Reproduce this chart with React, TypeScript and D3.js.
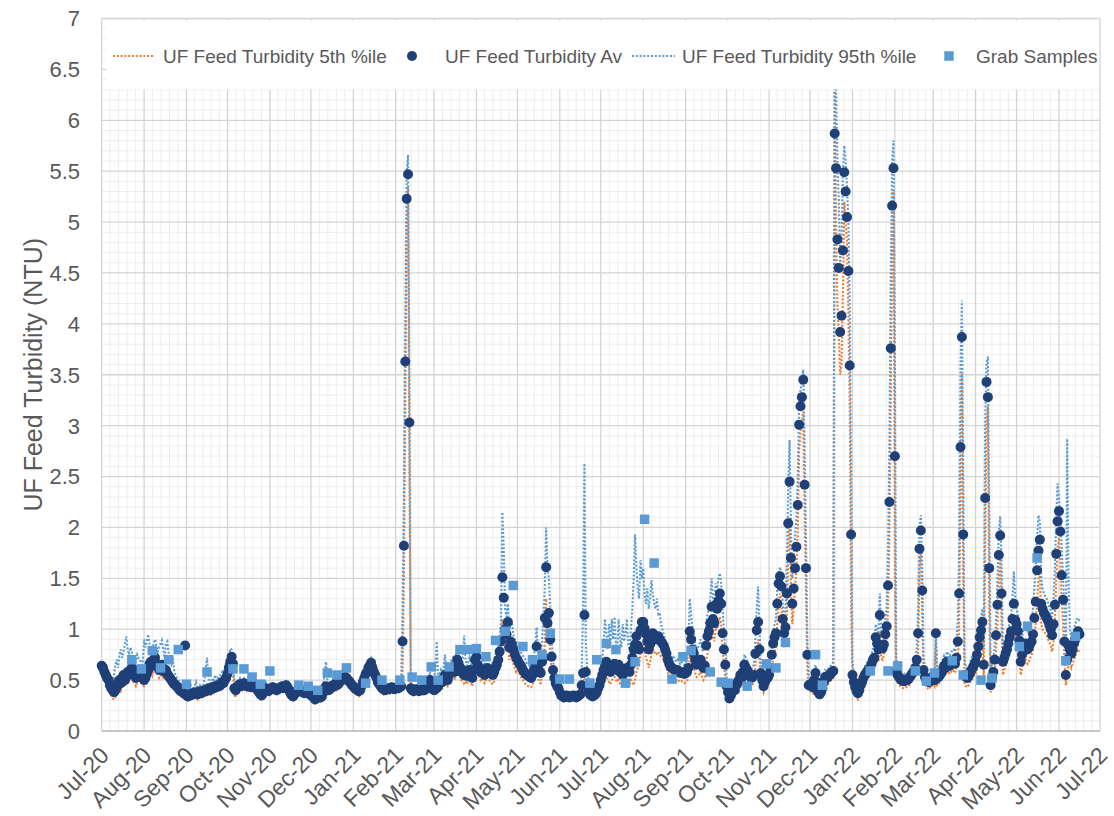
import React, { useEffect, useRef } from 'react';
import * as d3 from 'd3';

// daily values, first value is 1 Jul 2020, one value per day (null = no reading)
const firstDay = Date.UTC(2020, 6, 1);
const axisEnd = Date.UTC(2022, 6, 1);

const avgTurbidity: (number | null)[] = [
  // Jul-20
  0.64, 0.62, 0.58, 0.55, 0.52, 0.50, 0.45, 0.42, 0.40, 0.38, 0.40, 0.43, 0.48, 0.50, 0.47, 0.52, 0.55, 0.50, 0.53, 0.58, 0.56, 0.60, 0.62, 0.58, 0.55, 0.52, 0.56, 0.60, 0.58, 0.55, 0.52,
  // Aug-20
  0.50, 0.52, 0.56, 0.60, 0.66, 0.68, 0.64, 0.70, 0.72, 0.66, 0.63, 0.60, 0.62, 0.65, 0.60, 0.58, 0.60, 0.56, 0.54, 0.52, 0.50, 0.48, 0.46, 0.45, 0.44, 0.42, 0.40, 0.39, 0.38, 0.37, 0.84,
  // Sep-20
  0.35, 0.34, 0.36, 0.35, 0.37, 0.36, 0.38, 0.37, 0.36, 0.38, 0.39, 0.37, 0.38, 0.40, 0.39, 0.40, 0.42, 0.40, 0.41, 0.43, 0.42, 0.44, 0.43, 0.45, 0.44, 0.46, 0.48, 0.47, 0.50, 0.52,
  // Oct-20
  0.56, 0.62, 0.68, 0.73, 0.66, 0.42, 0.40, 0.43, 0.45, 0.46, 0.44, 0.45, 0.47, 0.45, 0.44, 0.46, 0.45, 0.43, 0.44, 0.46, 0.45, 0.42, 0.40, 0.38, 0.36, 0.35, 0.37, 0.40, 0.42, 0.40, 0.39,
  // Nov-20
  0.41, 0.42, 0.43, 0.41, 0.42, 0.40, 0.41, 0.42, 0.43, 0.44, 0.42, 0.44, 0.45, 0.43, 0.40, 0.37, 0.35, 0.34, 0.36, 0.38, 0.40, 0.41, 0.39, 0.40, 0.38, 0.37, 0.39, 0.38, 0.37, 0.36,
  // Dec-20
  0.36, 0.34, 0.33, 0.31, 0.32, 0.34, 0.35, 0.33, 0.34, 0.38, 0.42, 0.44, 0.41, 0.40, 0.42, 0.44, 0.43, 0.45, 0.47, 0.45, 0.46, 0.48, 0.50, 0.52, 0.51, 0.53, 0.52, 0.50, 0.49, 0.47, 0.45,
  // Jan-21
  0.44, 0.42, 0.41, 0.40, 0.39, 0.40, 0.44, 0.48, 0.52, 0.56, 0.58, 0.62, 0.64, 0.67, 0.62, 0.58, 0.55, 0.52, 0.48, 0.46, 0.44, 0.42, 0.41, 0.40, 0.41, 0.42, 0.41, 0.42, 0.43, 0.42, 0.41,
  // Feb-21
  0.42, 0.43, 0.42, 0.43, 0.44, 0.88, 1.82, 3.63, 5.23, 5.47, 3.03, 0.42, 0.40, 0.39, 0.40, 0.41, 0.40, 0.39, 0.40, 0.41, 0.40, 0.40, 0.41, 0.42, 0.44, 0.50, 0.46, 0.42,
  // Mar-21
  0.40, 0.41, 0.42, 0.44, 0.47, 0.50, 0.48, 0.52, 0.55, 0.53, 0.50, 0.55, 0.58, 0.60, 0.62, 0.58, 0.65, 0.70, 0.66, 0.62, 0.58, 0.60, 0.55, 0.57, 0.54, 0.57, 0.60, 0.55, 0.52, 0.60, 0.70,
  // Apr-21
  0.73, 0.65, 0.62, 0.58, 0.60, 0.57, 0.55, 0.58, 0.62, 0.60, 0.58, 0.56, 0.55, 0.58, 0.62, 0.65, 0.70, 0.78, 0.88, 1.51, 1.31, 1.00, 0.95, 1.07, 0.82, 0.88, 0.85, 0.80, 0.76, 0.72,
  // May-21
  0.70, 0.67, 0.65, 0.63, 0.60, 0.58, 0.56, 0.55, 0.54, 0.53, 0.52, 0.55, 0.60, 0.65, 0.83, 0.62, 0.58, 0.57, 0.68, 0.72, 1.11, 1.61, 1.06, 1.16, 0.90, 0.73, 0.60, 0.52, 0.47, 0.44, 0.42,
  // Jun-21
  0.38, 0.35, 0.34, 0.33, 0.34, 0.35, 0.34, 0.33, 0.34, 0.34, 0.35, 0.34, 0.33, 0.34, 0.35, 0.36, 0.45, 0.57, 1.14, 0.58, 0.44, 0.40, 0.36, 0.35, 0.34, 0.35, 0.36, 0.38, 0.42, 0.45,
  // Jul-21
  0.50, 0.55, 0.60, 0.65, 0.68, 0.62, 0.60, 0.58, 0.62, 0.64, 0.66, 0.62, 0.60, 0.65, 0.58, 0.57, 0.55, 0.58, 0.60, 0.62, 0.60, 0.58, 0.65, 0.72, 0.80, 0.85, 0.93, 0.84, 0.80, 0.99, 1.07,
  // Aug-21
  1.07, 1.01, 0.95, 0.88, 0.80, 0.85, 0.92, 0.96, 0.94, 0.90, 0.91, 0.93, 0.90, 0.88, 0.86, 0.84, 0.80, 0.76, 0.70, 0.66, 0.63, 0.62, 0.61, 0.60, 0.59, 0.60, 0.58, 0.57, 0.58, 0.57, 0.56,
  // Sep-21
  0.57, 0.58, 0.62, 0.98, 0.90, 0.80, 0.76, 0.70, 0.65, 0.66, 0.68, 0.70, 0.65, 0.62, 0.64, 0.84, 0.93, 0.98, 1.06, 1.22, 1.10, 1.06, 1.24, 1.20, 1.28, 1.35, 1.25, 0.96, 0.80, 0.65,
  // Oct-21
  0.44, 0.38, 0.32, 0.35, 0.38, 0.42, 0.40, 0.45, 0.48, 0.50, 0.55, 0.52, 0.58, 0.65, 0.62, 0.60, 0.56, 0.54, 0.52, 0.53, 0.55, 0.76, 0.99, 1.07, 0.80, 0.57, 0.50, 0.44, 0.48, 0.53, 0.52,
  // Nov-21
  0.55, 0.62, 0.75, 0.86, 0.92, 0.96, 1.25, 1.45, 1.52, 1.42, 1.10, 0.96, 1.02, 1.35, 2.04, 2.45, 1.70, 1.25, 1.40, 1.60, 1.81, 2.22, 3.01, 3.19, 3.28, 3.45, 2.42, 1.60, 0.75, 0.45,
  // Dec-21
  0.46, 0.44, 0.43, 0.50, 0.57, 0.48, 0.38, 0.36, 0.38, 0.42, 0.48, 0.53, 0.52, 0.53, 0.55, 0.56, 0.58, 0.59, 5.87, 5.53, 4.83, 4.55, 3.92, 4.08, 4.72, 5.49, 5.30, 5.05, 4.52, 3.59, 1.93,
  // Jan-22
  0.55, 0.48, 0.43, 0.39, 0.37, 0.40, 0.45, 0.48, 0.52, 0.55, 0.57, 0.59, 0.61, 0.62, 0.66, 0.70, 0.72, 0.92, 0.86, 0.80, 1.14, 0.83, 0.81, 0.85, 0.95, 1.03, 1.43, 2.25, 3.76, 5.16, 5.53,
  // Feb-22
  2.70, 0.59, 0.55, 0.53, 0.51, 0.50, 0.49, 0.49, 0.50, 0.50, 0.51, 0.53, 0.55, 0.57, 0.59, 0.62, 0.70, 0.96, 1.79, 1.97, 1.38, 0.60, 0.53, 0.50, 0.49, 0.48, 0.50, 0.52,
  // Mar-22
  0.52, 0.50, 0.96, 0.52, 0.53, 0.55, 0.57, 0.60, 0.64, 0.62, 0.68, 0.66, 0.64, 0.66, 0.69, 0.68, 0.66, 0.72, 0.88, 1.35, 2.79, 3.87, 1.93, 0.55, 0.53, 0.52, 0.54, 0.57, 0.60, 0.62, 0.65,
  // Apr-22
  0.68, 0.75, 0.83, 0.92, 0.99, 1.07, 0.65, 2.29, 3.43, 3.28, 1.60, 0.45, 0.52, 0.58, 0.70, 0.94, 1.24, 1.73, 1.92, 1.35, 0.68, 0.72, 0.76, 0.80, 0.86, 0.92, 0.98, 1.10, 1.25, 1.09,
  // May-22
  1.05, 0.98, 0.89, 0.68, 0.75, 0.82, 0.86, 0.84, 0.80, 0.82, 0.86, 0.88, 0.95, 1.11, 1.27, 1.58, 1.77, 1.88, 1.25, 1.20, 1.16, 1.14, 1.11, 1.08, 1.04, 1.00, 0.94, 1.05, 1.24, 1.74, 2.06,
  // Jun-22
  2.16, 1.96, 1.53, 1.29, 0.88, 0.55, 0.70, 0.84, 0.80, 0.76, 0.80, 0.86, 0.90, 0.94, 0.98, 0.95,
];

const p95Turbidity: (number | null)[] = [
  // Jul-20
  0.68, 0.66, 0.62, 0.60, 0.58, 0.56, 0.52, 0.50, 0.48, 0.55, 0.65, 0.70, 0.62, 0.75, 0.80, 0.72, 0.78, 0.85, 0.93, 0.80, 0.75, 0.82, 0.78, 0.70, 0.65, 0.68, 0.75, 0.72, 0.70, 0.65, 0.68,
  // Aug-20
  0.90, 0.82, 0.88, 0.95, 0.85, 0.80, 0.78, 0.86, 0.90, 0.84, 0.78, 0.82, 0.86, 0.89, 0.80, 0.72, 0.86, 0.88, 0.75, 0.70, 0.66, 0.72, 0.60, 0.55, 0.52, 0.50, 0.48, 0.46, 0.44, 0.43, null,
  // Sep-20
  0.40, 0.39, 0.41, 0.45, 0.42, 0.40, 0.44, 0.48, 0.42, 0.41, 0.45, 0.44, 0.42, 0.50, 0.60, 0.72, 0.55, 0.48, 0.47, 0.52, 0.50, 0.55, 0.49, 0.52, 0.50, 0.56, 0.58, 0.55, 0.62, 0.68,
  // Oct-20
  0.65, 0.72, 0.81, 0.80, 0.75, 0.48, 0.45, 0.48, 0.50, 0.52, 0.49, 0.50, 0.52, 0.50, 0.49, 0.53, 0.51, 0.48, 0.49, 0.52, 0.50, 0.47, 0.45, 0.43, 0.41, 0.40, 0.42, 0.45, 0.48, 0.45, 0.44,
  // Nov-20
  0.45, 0.46, 0.47, 0.45, 0.46, 0.44, 0.45, 0.46, 0.47, 0.48, 0.46, 0.48, 0.50, 0.47, 0.44, 0.41, 0.39, 0.38, 0.40, 0.42, 0.44, 0.45, 0.43, 0.44, 0.42, 0.41, 0.43, 0.42, 0.41, 0.40,
  // Dec-20
  0.40, 0.38, 0.37, 0.35, 0.36, 0.38, 0.39, 0.37, 0.39, 0.45, 0.55, 0.68, 0.50, 0.46, 0.48, 0.50, 0.49, 0.52, 0.55, 0.52, 0.53, 0.56, 0.58, 0.60, 0.58, 0.61, 0.59, 0.56, 0.55, 0.53, 0.50,
  // Jan-21
  0.49, 0.47, 0.46, 0.45, 0.44, 0.45, 0.50, 0.54, 0.58, 0.62, 0.64, 0.68, 0.70, 0.72, 0.68, 0.64, 0.60, 0.57, 0.53, 0.50, 0.48, 0.46, 0.45, 0.44, 0.45, 0.46, 0.45, 0.46, 0.47, 0.46, 0.45,
  // Feb-21
  0.46, 0.47, 0.46, 0.47, 0.48, 1.20, 2.30, 4.00, 5.50, 5.66, 3.50, 0.48, 0.44, 0.43, 0.44, 0.45, 0.44, 0.43, 0.44, 0.45, 0.44, 0.44, 0.45, 0.46, 0.50, 0.58, 0.52, 0.47,
  // Mar-21
  0.46, 0.60, 0.88, 0.55, 0.56, 0.60, 0.56, 0.62, 0.75, 0.62, 0.58, 0.64, 0.68, 0.70, 0.72, 0.66, 0.75, 0.80, 0.75, 0.72, 0.66, 0.70, 0.94, 0.70, 0.64, 0.68, 0.72, 0.65, 0.60, 0.70, 0.82,
  // Apr-21
  0.85, 0.76, 0.72, 0.70, 0.72, 0.68, 0.66, 0.70, 0.75, 0.72, 0.70, 0.68, 0.66, 0.70, 0.75, 0.78, 0.82, 0.92, 1.10, 2.15, 1.80, 1.20, 1.12, 1.25, 0.98, 1.05, 1.07, 0.95, 0.90, 0.88,
  // May-21
  0.85, 0.82, 0.80, 0.76, 0.74, 0.72, 0.70, 0.66, 0.65, 0.64, 0.66, 0.70, 0.75, 0.80, 1.02, 0.80, 0.72, 0.75, 0.90, 1.10, 1.40, 2.00, 1.60, 1.50, 1.20, 0.90, 0.70, 0.60, 0.52, 0.48, 0.45,
  // Jun-21
  0.42, 0.39, 0.38, 0.37, 0.38, 0.39, 0.38, 0.37, 0.38, 0.38, 0.39, 0.38, 0.37, 0.38, 0.40, 0.42, 0.60, 1.20, 2.63, 0.90, 0.60, 0.50, 0.42, 0.40, 0.39, 0.40, 0.42, 0.45, 0.50, 0.55,
  // Jul-21
  0.60, 0.70, 0.85, 1.10, 0.95, 0.80, 1.05, 0.85, 1.10, 0.90, 1.12, 0.85, 0.80, 1.10, 0.90, 0.82, 1.05, 0.88, 0.95, 1.10, 0.85, 0.80, 1.00, 1.20, 1.50, 1.93, 1.60, 1.40, 1.30, 1.68, 1.50,
  // Aug-21
  1.60, 1.35, 1.25, 1.40, 1.20, 1.30, 1.48, 1.35, 1.25, 1.20, 1.30, 1.15, 1.16, 1.05, 1.00, 0.95, 0.90, 0.85, 0.80, 0.76, 0.72, 0.70, 0.74, 0.70, 0.68, 0.70, 0.68, 0.66, 0.68, 0.66, 0.65,
  // Sep-21
  0.66, 0.70, 0.80, 1.30, 1.15, 1.00, 0.95, 0.85, 0.80, 0.82, 0.85, 0.90, 0.80, 0.78, 0.85, 1.05, 1.15, 1.20, 1.30, 1.50, 1.30, 1.25, 1.45, 1.40, 1.50, 1.55, 1.45, 1.20, 1.00, 0.80,
  // Oct-21
  0.50, 0.44, 0.38, 0.40, 0.44, 0.50, 0.47, 0.52, 0.55, 0.58, 0.64, 0.60, 0.66, 0.75, 0.72, 0.70, 0.65, 0.62, 0.60, 0.62, 0.66, 0.90, 1.20, 1.42, 1.00, 0.66, 0.58, 0.50, 0.55, 0.60, 0.60,
  // Nov-21
  0.60, 0.70, 0.85, 0.98, 1.05, 1.10, 1.40, 1.55, 1.61, 1.55, 1.25, 1.10, 1.20, 1.60, 2.40, 2.86, 2.00, 1.50, 1.70, 1.90, 2.10, 2.50, 3.20, 3.35, 3.45, 3.55, 2.80, 1.90, 0.90, 0.55,
  // Dec-21
  0.52, 0.50, 0.49, 0.58, 0.65, 0.55, 0.44, 0.42, 0.44, 0.49, 0.55, 0.60, 0.59, 0.60, 0.63, 0.64, 0.66, 0.68, 6.90, 6.30, 5.60, 5.20, 4.60, 4.80, 5.50, 5.75, 5.60, 5.35, 5.00, 4.20, 2.50,
  // Jan-22
  0.70, 0.56, 0.50, 0.45, 0.43, 0.47, 0.52, 0.56, 0.60, 0.63, 0.66, 0.68, 0.70, 0.72, 0.76, 0.82, 0.86, 1.05, 1.00, 0.95, 1.35, 0.98, 0.95, 1.00, 1.10, 1.20, 1.80, 2.80, 4.50, 5.60, 5.80,
  // Feb-22
  3.80, 0.72, 0.64, 0.61, 0.59, 0.58, 0.57, 0.56, 0.57, 0.57, 0.58, 0.60, 0.62, 0.65, 0.68, 0.72, 0.80, 1.20, 2.00, 2.12, 1.60, 0.72, 0.62, 0.58, 0.56, 0.55, 0.58, 0.60,
  // Mar-22
  0.60, 0.58, 1.00, 0.60, 0.62, 0.64, 0.66, 0.70, 0.74, 0.72, 0.78, 0.76, 0.74, 0.76, 0.80, 0.80, 0.78, 0.85, 1.10, 1.80, 3.60, 4.23, 2.50, 0.70, 0.62, 0.60, 0.62, 0.66, 0.72, 0.74, 0.78,
  // Apr-22
  0.78, 0.85, 0.95, 1.05, 1.12, 1.20, 0.80, 3.00, 3.60, 3.68, 2.20, 0.60, 0.65, 0.70, 0.85, 1.10, 1.50, 1.95, 2.11, 1.70, 0.80, 0.85, 0.90, 0.95, 1.00, 1.08, 1.15, 1.30, 1.57, 1.30,
  // May-22
  1.20, 1.15, 1.05, 0.80, 0.90, 1.00, 1.05, 1.02, 0.98, 1.00, 1.05, 1.10, 1.20, 1.40, 1.60, 1.90, 2.12, 2.05, 1.50, 1.40, 1.35, 1.32, 1.30, 1.26, 1.22, 1.18, 1.12, 1.30, 1.60, 2.10, 2.43,
  // Jun-22
  2.30, 2.10, 1.80, 1.50, 1.20, 0.70, 2.87, 1.50, 1.00, 0.90, 0.95, 1.00, 1.05, 1.10, 1.11, 1.08,
];

const p5Turbidity: (number | null)[] = [
  // Jul-20
  0.60, 0.58, 0.54, 0.50, 0.48, 0.45, 0.40, 0.36, 0.32, 0.31, 0.33, 0.38, 0.42, 0.44, 0.40, 0.46, 0.48, 0.44, 0.47, 0.50, 0.49, 0.52, 0.54, 0.50, 0.47, 0.44, 0.48, 0.52, 0.50, 0.48, 0.45,
  // Aug-20
  0.44, 0.46, 0.48, 0.52, 0.58, 0.60, 0.55, 0.60, 0.62, 0.58, 0.55, 0.52, 0.54, 0.57, 0.52, 0.50, 0.52, 0.49, 0.47, 0.45, 0.44, 0.42, 0.40, 0.40, 0.39, 0.37, 0.35, 0.34, 0.33, 0.32, null,
  // Sep-20
  0.31, 0.30, 0.32, 0.31, 0.33, 0.32, 0.34, 0.33, 0.31, 0.34, 0.35, 0.33, 0.34, 0.36, 0.35, 0.35, 0.37, 0.34, 0.36, 0.38, 0.37, 0.39, 0.38, 0.40, 0.39, 0.41, 0.43, 0.42, 0.45, 0.47,
  // Oct-20
  0.50, 0.56, 0.60, 0.65, 0.58, 0.35, 0.33, 0.38, 0.40, 0.41, 0.39, 0.40, 0.42, 0.40, 0.39, 0.41, 0.40, 0.38, 0.39, 0.41, 0.40, 0.37, 0.35, 0.33, 0.31, 0.30, 0.32, 0.35, 0.37, 0.35, 0.34,
  // Nov-20
  0.37, 0.38, 0.39, 0.37, 0.38, 0.36, 0.37, 0.38, 0.39, 0.40, 0.38, 0.40, 0.41, 0.39, 0.36, 0.33, 0.31, 0.30, 0.32, 0.34, 0.36, 0.37, 0.35, 0.36, 0.34, 0.33, 0.35, 0.34, 0.33, 0.32,
  // Dec-20
  0.32, 0.30, 0.29, 0.27, 0.28, 0.30, 0.31, 0.29, 0.30, 0.34, 0.37, 0.39, 0.36, 0.35, 0.37, 0.39, 0.38, 0.40, 0.42, 0.40, 0.41, 0.43, 0.45, 0.47, 0.46, 0.48, 0.47, 0.45, 0.44, 0.42, 0.40,
  // Jan-21
  0.39, 0.37, 0.36, 0.35, 0.34, 0.35, 0.39, 0.43, 0.47, 0.51, 0.53, 0.57, 0.59, 0.62, 0.57, 0.53, 0.50, 0.47, 0.43, 0.41, 0.39, 0.37, 0.36, 0.35, 0.36, 0.37, 0.36, 0.37, 0.38, 0.37, 0.36,
  // Feb-21
  0.38, 0.39, 0.38, 0.39, 0.40, 0.60, 1.50, 3.30, 5.00, 5.35, 2.60, 0.38, 0.36, 0.35, 0.36, 0.37, 0.36, 0.35, 0.36, 0.37, 0.36, 0.36, 0.37, 0.38, 0.39, 0.44, 0.41, 0.38,
  // Mar-21
  0.36, 0.37, 0.37, 0.39, 0.41, 0.44, 0.42, 0.45, 0.48, 0.46, 0.44, 0.48, 0.50, 0.52, 0.54, 0.50, 0.56, 0.60, 0.57, 0.53, 0.50, 0.52, 0.47, 0.49, 0.46, 0.49, 0.52, 0.47, 0.44, 0.50, 0.60,
  // Apr-21
  0.62, 0.56, 0.53, 0.50, 0.52, 0.49, 0.47, 0.50, 0.53, 0.51, 0.49, 0.47, 0.46, 0.49, 0.53, 0.56, 0.60, 0.66, 0.75, 1.10, 1.00, 0.82, 0.80, 0.90, 0.70, 0.75, 0.72, 0.66, 0.62, 0.58,
  // May-21
  0.60, 0.57, 0.55, 0.52, 0.50, 0.48, 0.46, 0.45, 0.44, 0.43, 0.43, 0.45, 0.50, 0.54, 0.65, 0.52, 0.48, 0.47, 0.55, 0.60, 0.90, 1.30, 0.90, 1.00, 0.75, 0.60, 0.50, 0.44, 0.40, 0.38, 0.36,
  // Jun-21
  0.33, 0.31, 0.30, 0.29, 0.30, 0.31, 0.30, 0.29, 0.30, 0.30, 0.31, 0.30, 0.29, 0.30, 0.31, 0.32, 0.38, 0.45, 0.60, 0.45, 0.38, 0.35, 0.32, 0.31, 0.30, 0.31, 0.32, 0.33, 0.36, 0.38,
  // Jul-21
  0.42, 0.45, 0.48, 0.52, 0.55, 0.50, 0.48, 0.46, 0.50, 0.52, 0.53, 0.50, 0.48, 0.52, 0.46, 0.45, 0.43, 0.46, 0.48, 0.50, 0.48, 0.46, 0.50, 0.48, 0.45, 0.50, 0.58, 0.62, 0.65, 0.75, 0.85,
  // Aug-21
  0.85, 0.78, 0.72, 0.68, 0.62, 0.68, 0.75, 0.80, 0.78, 0.75, 0.76, 0.78, 0.75, 0.73, 0.72, 0.70, 0.66, 0.62, 0.58, 0.55, 0.53, 0.52, 0.51, 0.50, 0.50, 0.51, 0.49, 0.48, 0.49, 0.48, 0.47,
  // Sep-21
  0.48, 0.49, 0.52, 0.75, 0.70, 0.64, 0.62, 0.57, 0.53, 0.54, 0.56, 0.58, 0.53, 0.50, 0.52, 0.68, 0.76, 0.82, 0.90, 1.02, 0.92, 0.88, 1.02, 1.00, 1.08, 1.12, 1.05, 0.80, 0.65, 0.52,
  // Oct-21
  0.38, 0.33, 0.28, 0.30, 0.33, 0.36, 0.35, 0.39, 0.42, 0.44, 0.48, 0.45, 0.50, 0.56, 0.53, 0.52, 0.48, 0.46, 0.45, 0.46, 0.48, 0.65, 0.82, 0.90, 0.68, 0.49, 0.43, 0.38, 0.42, 0.46, 0.45,
  // Nov-21
  0.48, 0.52, 0.62, 0.72, 0.78, 0.82, 1.05, 1.25, 1.35, 1.25, 0.95, 0.82, 0.88, 1.15, 1.70, 2.10, 1.45, 1.05, 1.20, 1.40, 1.60, 1.95, 2.75, 2.95, 3.05, 3.14, 2.10, 1.35, 0.60, 0.40,
  // Dec-21
  0.40, 0.38, 0.37, 0.43, 0.50, 0.42, 0.33, 0.31, 0.33, 0.36, 0.42, 0.46, 0.45, 0.46, 0.48, 0.49, 0.51, 0.52, 6.40, 5.00, 4.20, 3.90, 3.50, 3.60, 4.30, 5.20, 5.00, 4.80, 4.10, 3.20, 1.20,
  // Jan-22
  0.42, 0.40, 0.36, 0.33, 0.31, 0.34, 0.38, 0.41, 0.45, 0.48, 0.50, 0.52, 0.54, 0.55, 0.58, 0.62, 0.64, 0.78, 0.74, 0.68, 0.98, 0.72, 0.70, 0.74, 0.82, 0.88, 1.20, 1.90, 3.30, 4.80, 5.30,
  // Feb-22
  1.60, 0.50, 0.47, 0.45, 0.44, 0.43, 0.42, 0.42, 0.43, 0.43, 0.44, 0.46, 0.48, 0.50, 0.52, 0.54, 0.60, 0.75, 1.60, 1.80, 1.15, 0.50, 0.46, 0.44, 0.42, 0.41, 0.43, 0.45,
  // Mar-22
  0.46, 0.44, 0.90, 0.45, 0.46, 0.48, 0.50, 0.52, 0.56, 0.54, 0.60, 0.58, 0.56, 0.58, 0.60, 0.59, 0.57, 0.62, 0.70, 1.00, 2.40, 3.53, 1.50, 0.45, 0.44, 0.43, 0.45, 0.48, 0.50, 0.52, 0.55,
  // Apr-22
  0.55, 0.62, 0.70, 0.78, 0.85, 0.90, 0.52, 1.70, 3.00, 3.19, 1.20, 0.38, 0.42, 0.48, 0.58, 0.80, 1.05, 1.50, 1.70, 1.10, 0.55, 0.60, 0.64, 0.68, 0.74, 0.78, 0.84, 0.95, 1.10, 0.90,
  // May-22
  0.90, 0.82, 0.72, 0.55, 0.62, 0.70, 0.72, 0.70, 0.66, 0.68, 0.72, 0.75, 0.80, 0.92, 1.05, 1.30, 1.50, 1.60, 1.05, 1.00, 0.98, 0.96, 0.94, 0.90, 0.87, 0.84, 0.78, 0.88, 1.05, 1.50, 1.80,
  // Jun-22
  1.90, 1.70, 1.30, 1.05, 0.70, 0.45, 0.55, 0.68, 0.66, 0.62, 0.66, 0.70, 0.74, 0.78, 0.80, 0.78,
];

// grab samples: day counted from 1 Jul 2020, and the lab value
const grabDay = [
  22, 29, 37, 43, 49, 56, 62, 77, 96, 104, 110, 116, 123, 144, 151, 158, 165, 172, 179, 193,
  205, 218, 227, 234, 241, 246, 254, 262, 268, 274, 281, 288, 295, 301, 308, 315, 322, 328, 335, 342,
  357, 362, 369, 376, 383, 390, 397, 404, 417, 425, 431, 445, 453, 458, 472, 486, 493, 500, 522, 527,
  562, 575, 582, 595, 603, 609, 622, 630, 643, 651, 671, 677, 684, 705, 712,
];
const grabValue = [
  0.70, 0.61, 0.79, 0.62, 0.70, 0.80, 0.46, 0.58, 0.61, 0.61, 0.53, 0.46, 0.59, 0.45, 0.44, 0.40, 0.57, 0.55, 0.62, 0.47,
  0.50, 0.50, 0.53, 0.50, 0.63, 0.50, 0.63, 0.80, 0.80, 0.81, 0.73, 0.89, 0.98, 1.43, 0.83, 0.70, 0.75, 0.96, 0.51, 0.51,
  0.47, 0.70, 0.86, 0.80, 0.47, 0.68, 2.08, 1.65, 0.51, 0.73, 0.79, 0.58, 0.48, 0.47, 0.44, 0.66, 0.62, 0.87, 0.75, 0.45,
  0.59, 0.59, 0.64, 0.59, 0.49, 0.57, 0.69, 0.55, 0.50, 0.52, 0.83, 1.03, 1.70, 0.69, 0.93,
];

const legendLabels = [
  'UF Feed Turbidity 5th %ile',
  'UF Feed Turbidity Av',
  'UF Feed Turbidity 95th %ile',
  'Grab Samples',
];

const colors = {
  p5: '#ed7d31',
  avg: '#1f3f77',
  p95: '#5b9bd5',
  grab: '#5b9bd5',
  text: '#595959',
  major: '#d4d4d4',
  minor: '#ededed',
};

const font = '"Liberation Sans", Arial, sans-serif';
const DAY = 86400000;

export default function App() {
  const ref = useRef<SVGSVGElement>(null);

  useEffect(() => {
    const svg = d3.select(ref.current);
    svg.selectAll('*').remove();

    const left = 101.7, right = 1100, top = 18.5, bottom = 731;
    const x = d3.scaleUtc().domain([new Date(firstDay), new Date(axisEnd)]).range([left, right]);
    const y = d3.scaleLinear().domain([0, 7]).range([bottom, top]);
    const dayDate = (i: number) => new Date(firstDay + i * DAY);

    svg.append('rect').attr('width', 1114).attr('height', 816).attr('fill', '#fff');

    const grid = svg.append('g');
    const months = d3.utcMonth.range(new Date(firstDay), new Date(axisEnd + DAY));

    // minor grid
    y.ticks(70).forEach((t) => {
      if (Math.abs(t * 2 - Math.round(t * 2)) < 1e-6) return;
      grid.append('line').attr('x1', left).attr('x2', right).attr('y1', y(t)).attr('y2', y(t))
        .attr('stroke', colors.minor).attr('stroke-width', 1);
    });
    for (let m = 0; m < months.length - 1; m++) {
      const a = months[m].getTime(), b = months[m + 1].getTime();
      for (let k = 1; k < 5; k++) {
        const xx = x(new Date(a + ((b - a) * k) / 5));
        grid.append('line').attr('x1', xx).attr('x2', xx).attr('y1', top).attr('y2', bottom)
          .attr('stroke', colors.minor).attr('stroke-width', 1);
      }
    }
    // major grid
    y.ticks(14).forEach((t) => {
      grid.append('line').attr('x1', left).attr('x2', right).attr('y1', y(t)).attr('y2', y(t))
        .attr('stroke', colors.major).attr('stroke-width', 1.3);
    });
    months.forEach((m) => {
      grid.append('line').attr('x1', x(m)).attr('x2', x(m)).attr('y1', top).attr('y2', bottom)
        .attr('stroke', colors.major).attr('stroke-width', 1.3);
    });
    grid.append('line').attr('x1', left).attr('x2', right).attr('y1', bottom).attr('y2', bottom)
      .attr('stroke', '#bfbfbf').attr('stroke-width', 1.3);

    const line = d3.line<number | null>()
      .defined((d) => d != null)
      .x((_, i) => x(dayDate(i)))
      .y((d) => y(d as number));

    const dotted = { width: 2.1, dash: '2 1.8' };

    svg.append('path').attr('d', line(p5Turbidity)).attr('fill', 'none')
      .attr('stroke', colors.p5).attr('stroke-width', dotted.width).attr('stroke-dasharray', dotted.dash);

    svg.append('path').attr('d', line(p95Turbidity)).attr('fill', 'none')
      .attr('stroke', colors.p95).attr('stroke-width', dotted.width).attr('stroke-dasharray', dotted.dash);

    svg.append('g').selectAll('circle')
      .data(avgTurbidity.map((v, i) => ({ v, i })).filter((d) => d.v != null))
      .enter().append('circle')
      .attr('cx', (d) => x(dayDate(d.i)))
      .attr('cy', (d) => y(d.v as number))
      .attr('r', 5)
      .attr('fill', colors.avg);

    const sq = 9.5;
    svg.append('g').selectAll('rect')
      .data(grabDay.map((d, i) => ({ d, v: grabValue[i] })))
      .enter().append('rect')
      .attr('x', (d) => x(dayDate(d.d)) - sq / 2)
      .attr('y', (d) => y(d.v) - sq / 2)
      .attr('width', sq).attr('height', sq)
      .attr('fill', colors.grab);

    // legend on a white box over the top of the plot
    const lg = svg.append('g');
    lg.append('rect').attr('x', 106).attr('y', 20.5).attr('width', 993).attr('height', 69).attr('fill', '#fff');
    const ly = 56;
    const lgText = (tx: number, s: string) =>
      lg.append('text').attr('x', tx).attr('y', ly).attr('dy', '0.35em')
        .attr('font-family', font).attr('font-size', 19).attr('fill', colors.text).text(s);
    lg.append('line').attr('x1', 113).attr('x2', 155).attr('y1', ly).attr('y2', ly)
      .attr('stroke', colors.p5).attr('stroke-width', dotted.width).attr('stroke-dasharray', dotted.dash);
    lgText(163, legendLabels[0]);
    lg.append('circle').attr('cx', 412).attr('cy', ly).attr('r', 5).attr('fill', colors.avg);
    lgText(445, legendLabels[1]);
    lg.append('line').attr('x1', 632).attr('x2', 675).attr('y1', ly).attr('y2', ly)
      .attr('stroke', colors.p95).attr('stroke-width', dotted.width).attr('stroke-dasharray', dotted.dash);
    lgText(682, legendLabels[2]);
    lg.append('rect').attr('x', 949 - sq / 2).attr('y', ly - sq / 2).attr('width', sq).attr('height', sq)
      .attr('fill', colors.grab);
    lgText(976, legendLabels[3]);

    // y axis labels
    const fmt = d3.format('~g');
    svg.append('g').selectAll('text').data(y.ticks(14)).enter().append('text')
      .attr('x', 80).attr('y', (d) => y(d)).attr('dy', '0.36em')
      .attr('text-anchor', 'end').attr('font-family', font).attr('font-size', 22)
      .attr('fill', colors.text).text((d) => fmt(d));

    // x axis labels
    const mfmt = d3.utcFormat('%b-%y');
    svg.append('g').selectAll('text').data(months).enter().append('text')
      .attr('transform', (d) => `translate(${x(d) + 3},${bottom + 20}) rotate(-45)`)
      .attr('dy', '0.35em').attr('text-anchor', 'end')
      .attr('font-family', font).attr('font-size', 23).attr('fill', colors.text)
      .text((d) => mfmt(d));

    svg.append('text')
      .attr('transform', `translate(33,${(top + bottom) / 2}) rotate(-90)`)
      .attr('dy', '0.35em').attr('text-anchor', 'middle')
      .attr('font-family', font).attr('font-size', 25).attr('fill', colors.text)
      .text('UF Feed Turbidity (NTU)');
  }, []);

  return (
    <svg ref={ref} width={1114} height={816}
      style={{ position: 'absolute', left: 0, top: 0, display: 'block' }} />
  );
}
